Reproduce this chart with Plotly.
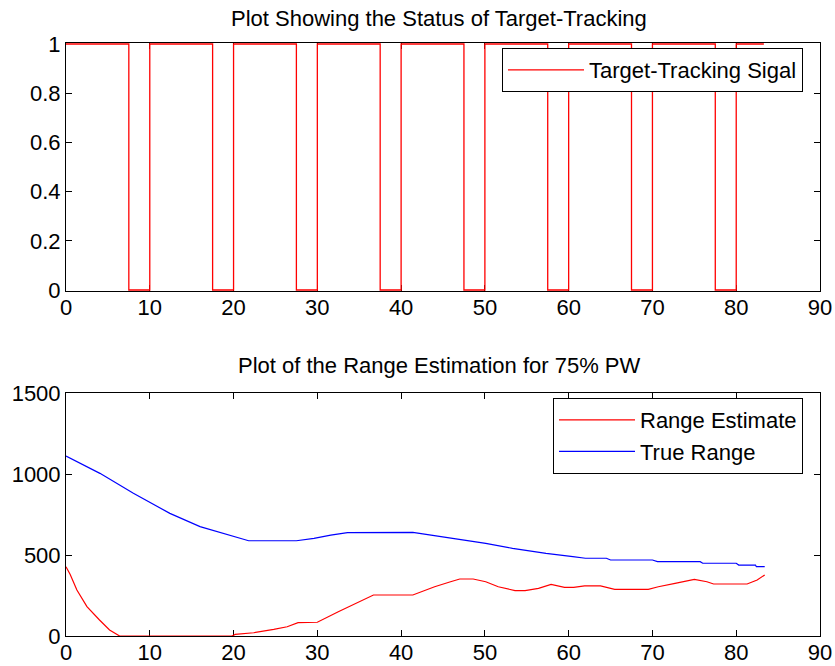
import plotly.graph_objects as go
from plotly.subplots import make_subplots

# ---- Data ----
# Target-tracking signal (step function, value holds until the next time)
track_time = [0, 7.5, 10, 17.5, 20, 27.5, 30, 37.5, 40, 47.5, 50,
              57.5, 60, 67.5, 70, 77.5, 80, 83.3]
track_signal = [1, 0, 1, 0, 1, 0, 1, 0, 1, 0, 1,
                0, 1, 0, 1, 0, 1, 1]

# Range estimate (red)
est_time = [0, 0.5, 1.3, 2.5, 4.0, 5.2, 6.4, 10, 15, 19.8, 20.2, 22.4, 24.8,
            26.4, 27.7, 30, 32.5, 35.3, 36.7, 41.4, 42.4, 44, 45.9, 47, 48.6,
            50.1, 51.6, 53.6, 54.8, 56.4, 57.9, 59.5, 60.6, 61.9, 63.8, 65.5,
            69.5, 70.7, 72.7, 74.7, 75, 76.5, 77.3, 81.3, 82.5, 83.4]
est_range = [428, 380, 284, 181, 99, 37, 0, 0, 0, 0, 10, 20, 41,
             57, 82, 85, 150, 222, 253, 253, 274, 304, 335, 352, 352,
             335, 304, 280, 280, 294, 318, 300, 300, 309, 309, 288,
             288, 304, 325, 350, 350, 335, 321, 321, 346, 377]

# True range (blue)
true_time = [0, 4.05, 8.04, 12.4, 16.0, 20, 21.8, 27.5, 29.6, 31.6, 33.6,
             41.4, 43.6, 46.4, 50.1, 53.3, 57.3, 60.5, 62, 64.5, 65, 70,
             70.6, 75.7, 76, 80, 80.3, 82.3, 82.4, 83.4]
true_range = [1111, 1004, 881, 757, 675, 613, 588, 588, 603, 623, 638,
              640, 623, 597, 572, 541, 510, 490, 480, 480, 469, 469,
              459, 459, 449, 449, 438, 438, 428, 428]

x_ticks = [0, 10, 20, 30, 40, 50, 60, 70, 80, 90]
top_y_ticks = [0, 0.2, 0.4, 0.6, 0.8, 1]
top_y_labels = ["0", "0.2", "0.4", "0.6", "0.8", "1"]
bot_y_ticks = [0, 500, 1000, 1500]

FONT = "Liberation Sans, Arial, sans-serif"
FS = 22

fig = make_subplots(rows=2, cols=1, vertical_spacing=0.0)

fig.add_trace(go.Scatter(x=track_time, y=track_signal, mode="lines",
                         line=dict(color="red", width=1.3, shape="hv"),
                         name="Target-Tracking Sigal", legend="legend"),
              row=1, col=1)
fig.add_trace(go.Scatter(x=est_time, y=est_range, mode="lines",
                         line=dict(color="red", width=1.2),
                         name="Range Estimate", legend="legend2"),
              row=2, col=1)
fig.add_trace(go.Scatter(x=true_time, y=true_range, mode="lines",
                         line=dict(color="blue", width=1.2),
                         name="True Range", legend="legend2"),
              row=2, col=1)

axis_common = dict(showgrid=False, zeroline=False, showline=True,
                   linecolor="black", linewidth=1, mirror="ticks",
                   ticks="inside", ticklen=6, tickcolor="black",
                   tickfont=dict(family=FONT, size=FS, color="black"),
                   automargin=False, layer="below traces")

top_dom = [(636 - 291) / 593, 1.0]
bot_dom = [0.0, (636 - 393) / 593]

fig.update_xaxes(range=[0, 90], tickvals=x_ticks, ticklabelstandoff=-3,
                 **axis_common)
fig.update_yaxes(**axis_common)
fig.update_yaxes(range=[-0.004, 1.004], tickvals=top_y_ticks,
                 ticktext=top_y_labels, domain=top_dom, row=1, col=1)
fig.update_yaxes(range=[0, 1500], tickvals=bot_y_ticks, domain=bot_dom,
                 row=2, col=1)

fig.update_layout(
    width=835, height=666,
    margin=dict(l=66, r=15, t=43, b=30, autoexpand=False),
    paper_bgcolor="white", plot_bgcolor="white",
    font=dict(family=FONT, size=FS, color="black"),
    showlegend=True,
    legend=dict(x=(803 - 66) / 754, y=(636 - 48) / 593, xanchor="right",
                yanchor="top", bordercolor="black", borderwidth=1,
                itemwidth=76,
                bgcolor="white", font=dict(family=FONT, size=FS)),
    legend2=dict(x=(803 - 66) / 754, y=(636 - 398) / 593,
                 xanchor="right", yanchor="top", bordercolor="black",
                 borderwidth=1, itemwidth=76,
                 bgcolor="white", font=dict(family=FONT, size=FS)),
    annotations=[
        dict(text="Plot Showing the Status of Target-Tracking", x=0.495,
             y=(636 - 18) / 593, xref="paper", yref="paper", showarrow=False,
             xanchor="center", yanchor="middle",
             font=dict(family=FONT, size=FS, color="black")),
        dict(text="Plot of the Range Estimation for 75% PW", x=0.495,
             y=(636 - 365) / 593, xref="paper", yref="paper", showarrow=False,
             xanchor="center", yanchor="middle",
             font=dict(family=FONT, size=FS, color="black")),
    ],
)

# remove the default 8px page margin so the 835x666 figure fills the window
fig.write_html("out.html",
               config={"displayModeBar": False},
               post_script="document.body.style.margin='0';"
                           "document.body.style.overflow='hidden';")
